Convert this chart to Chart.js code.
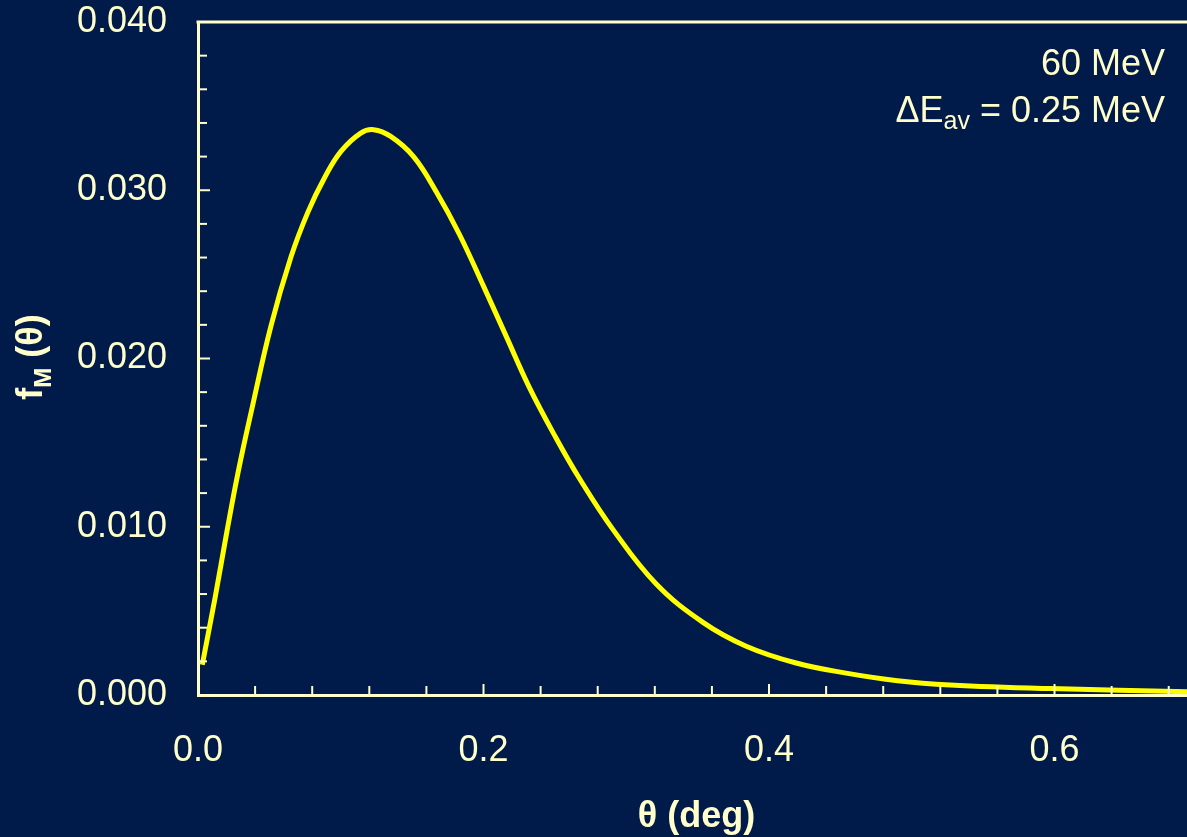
<!DOCTYPE html>
<html lang="en">
<head>
    <meta charset="UTF-8">
    <title>f_M(theta) at 60 MeV</title>
    <script src="https://cdn.jsdelivr.net/npm/chart.js@4.4.1/dist/chart.umd.min.js"></script>
    <style>
        html, body { margin: 0; padding: 0; background: #001a4a; overflow: hidden; }
        canvas { display: block; }
    </style>
</head>
<body>
    <canvas id="chart" width="1187" height="837"></canvas>

<script>
    // values
    const thetaDeg = [0.003, 0.012, 0.020, 0.028, 0.038, 0.051, 0.065, 0.077, 0.089, 0.100,
                      0.114, 0.123, 0.135, 0.151, 0.167, 0.183, 0.200, 0.216, 0.232, 0.250,
                      0.267, 0.291, 0.321, 0.354, 0.384, 0.419, 0.454, 0.490, 0.527, 0.597, 0.693];
    const fM = [0.0018, 0.0058, 0.0096, 0.0132, 0.0171, 0.0219, 0.0260, 0.0287, 0.0308, 0.0323,
                0.0334, 0.0336, 0.0332, 0.0320, 0.0299, 0.0274, 0.0243, 0.0213, 0.0183, 0.0154,
                0.0129, 0.0098, 0.0066, 0.0043, 0.0029, 0.0019, 0.0013, 0.00085, 0.0006, 0.00038, 0.0002];

    const xTitle = 'θ (deg)';
    const yTitle = ['f', 'M', ' (θ)'];          // main, subscript, rest
    const noteLine1 = '60 MeV';
    const noteLine2 = ['ΔE', 'av', ' = 0.25 MeV'];

    const bg = '#001a4a';
    const cream = '#ffffcc';
    const font = '"Liberation Sans", Arial, sans-serif';

    // inward major/minor tick marks, box top line and the text with subscripts
    const decor = {
        id: 'decor',
        beforeDraw(chart) {
            const c = chart.ctx;
            c.save();
            c.fillStyle = bg;
            c.fillRect(0, 0, chart.width, chart.height);
            c.restore();
        },
        afterDatasetsDraw(chart) {
            const c = chart.ctx;
            const a = chart.chartArea;
            const xs = chart.scales.x, ys = chart.scales.y;
            c.save();
            c.strokeStyle = cream;
            c.lineWidth = 2;

            for (let i = 0; i * 0.04 <= xs.max + 1e-9; i++) {
                const px = xs.getPixelForValue(i * 0.04);
                const len = (i % 5 === 0) ? 11 : 9;
                c.beginPath();
                c.moveTo(px, a.bottom);
                c.lineTo(px, a.bottom - len);
                c.stroke();
            }
            for (let i = 0; i * 0.002 <= ys.max + 1e-9; i++) {
                const py = ys.getPixelForValue(i * 0.002);
                const len = (i % 5 === 0) ? 12 : 9;
                c.beginPath();
                c.moveTo(a.left, py);
                c.lineTo(a.left + len, py);
                c.stroke();
            }

            c.lineWidth = 3;
            c.beginPath();
            c.moveTo(a.left - 1.5, a.top);
            c.lineTo(a.right, a.top);
            c.stroke();

            c.fillStyle = cream;
            c.textBaseline = 'alphabetic';

            // x title
            c.font = 'bold 36px ' + font;
            c.textAlign = 'center';
            c.fillText(xTitle, (a.left + a.right) / 2 + 4, 827);

            // y title, rotated
            c.textAlign = 'left';
            const big = 'bold 36px ' + font, small = 'bold 24px ' + font;
            c.font = big;  const w0 = c.measureText(yTitle[0]).width;
            c.font = small; const w1 = c.measureText(yTitle[1]).width;
            c.font = big;  const w2 = c.measureText(yTitle[2]).width;
            const total = w0 + w1 + w2;
            c.save();
            c.translate(42, 357 + total / 2);
            c.rotate(-Math.PI / 2);
            c.font = big;   c.fillText(yTitle[0], 0, 0);
            c.font = small; c.fillText(yTitle[1], w0, 9);
            c.font = big;   c.fillText(yTitle[2], w0 + w1, 0);
            c.restore();

            // note, top right
            const reg = '36px ' + font, sub = '25px ' + font;
            const rightEdge = 1165;
            c.font = reg;
            c.textAlign = 'right';
            c.fillText(noteLine1, rightEdge, 75);
            c.textAlign = 'left';
            c.font = reg; const n0 = c.measureText(noteLine2[0]).width;
            c.font = sub; const n1 = c.measureText(noteLine2[1]).width;
            c.font = reg; const n2 = c.measureText(noteLine2[2]).width;
            let x = rightEdge - (n0 + n1 + n2);
            c.font = reg; c.fillText(noteLine2[0], x, 122); x += n0;
            c.font = sub; c.fillText(noteLine2[1], x, 129); x += n1;
            c.font = reg; c.fillText(noteLine2[2], x, 122);

            c.restore();
        }
    };

    const ctx = document.getElementById('chart').getContext('2d');
    const myChart = new Chart(ctx, {
        type: 'line',
        data: {
            datasets: [{
                data: thetaDeg.map((t, i) => ({ x: t, y: fM[i] })),
                borderColor: '#ffff00',
                borderWidth: 5,
                pointRadius: 0,
                fill: false,
                tension: 0.4
            }]
        },
        options: {
            responsive: false,
            animation: false,
            layout: { padding: { top: 22, right: 0, left: 0, bottom: 0 } },
            plugins: { legend: { display: false }, tooltip: { enabled: false } },
            scales: {
                x: {
                    type: 'linear',
                    min: 0,
                    max: 0.6928,
                    afterFit: s => { s.height = 142; s.paddingLeft = 0; s.paddingRight = 0; },
                    grid: { display: false, drawTicks: false },
                    border: { display: true, color: cream, width: 3 },
                    ticks: {
                        stepSize: 0.2,
                        includeBounds: false,
                        color: cream,
                        padding: 34,
                        font: { family: font, size: 36 },
                        callback: v => v.toFixed(1)
                    }
                },
                y: {
                    min: 0,
                    max: 0.04,
                    afterFit: s => { s.width = 198; s.paddingTop = 0; s.paddingBottom = 0; },
                    grid: { display: false, drawTicks: false },
                    border: { display: true, color: cream, width: 3 },
                    ticks: {
                        stepSize: 0.01,
                        color: cream,
                        padding: 31,
                        font: { family: font, size: 36 },
                        callback: v => v.toFixed(3)
                    }
                }
            }
        },
        plugins: [decor]
    });
</script>
</body>
</html>
